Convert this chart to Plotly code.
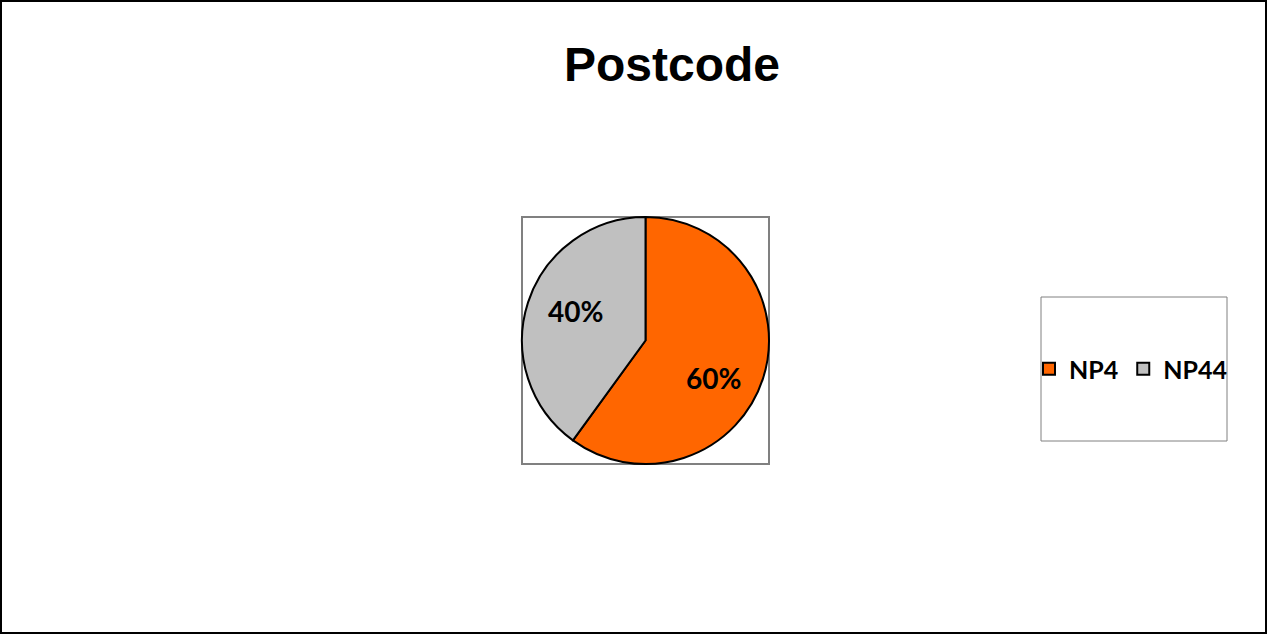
import math
import plotly.graph_objects as go

# Postcode split
labels = ["NP4", "NP44"]
values = [60, 40]
colors = ["#FF6600", "#C0C0C0"]

W, H = 1267, 635

def px_x(x):
    return x / W

def px_y(y):
    return 1 - y / H

# plot area square (pixels)
pa_left, pa_right, pa_top, pa_bottom = 522, 769, 217, 464
cx, cy = (pa_left + pa_right) / 2, (pa_top + pa_bottom) / 2
radius = (pa_right - pa_left) / 2

fig = go.Figure()
fig.add_trace(go.Pie(
    labels=labels,
    values=values,
    sort=False,
    direction="clockwise",
    rotation=0,
    marker=dict(colors=colors, line=dict(color="#000000", width=2)),
    textinfo="none",
    domain=dict(x=[px_x(pa_left), px_x(pa_right)], y=[px_y(pa_bottom), px_y(pa_top)]),
    hoverinfo="label+percent",
))

# percentage labels placed inside each slice, offset along the slice
label_radius = [0.63, 0.62]
label_turn = [11, 5]  # degrees, clockwise nudge from the slice middle
annotations = []
total = sum(values)
start = 0.0
for i, v in enumerate(values):
    frac = v / total
    mid_deg = (start + frac / 2) * 360 + label_turn[i]
    start += frac
    a = math.radians(mid_deg)
    r = radius * label_radius[i]
    x = cx + r * math.sin(a)
    y = cy - r * math.cos(a)
    annotations.append(dict(
        x=px_x(x), y=px_y(y), xref="paper", yref="paper",
        text=f"{round(frac * 100)}%", showarrow=False,
        xanchor="center", yanchor="middle",
        font=dict(family="Lato", size=28, color="#000000", weight="bold"),
    ))

shapes = [
    # outer chart border
    dict(type="rect", xref="paper", yref="paper", x0=px_x(1), x1=px_x(W - 1), y0=px_y(H - 2), y1=px_y(1),
         line=dict(color="#000000", width=2), fillcolor="rgba(0,0,0,0)", layer="below"),
    # plot area border
    dict(type="rect", xref="paper", yref="paper", x0=px_x(pa_left), x1=px_x(pa_right),
         y0=px_y(pa_bottom), y1=px_y(pa_top),
         line=dict(color="#808080", width=2), fillcolor="rgba(0,0,0,0)", layer="below"),
    # legend box
    dict(type="rect", xref="paper", yref="paper", x0=px_x(1041), x1=px_x(1227), y0=px_y(441), y1=px_y(297),
         line=dict(color="#808080", width=1), fillcolor="#FFFFFF", layer="below"),
]

fig.update_layout(
    width=W, height=H,
    margin=dict(l=0, r=0, t=0, b=0),
    paper_bgcolor="#FFFFFF",
    plot_bgcolor="#FFFFFF",
    title=dict(text="Postcode", x=px_x(672), xanchor="center", xref="paper",
               y=px_y(64), yanchor="middle", yref="paper",
               font=dict(family="Liberation Sans", size=48, color="#000000", weight="bold")),
    showlegend=True,
    legend=dict(orientation="h", x=px_x(1029), xanchor="left", y=px_y(369), yanchor="middle",
                bgcolor="rgba(0,0,0,0)", borderwidth=0,
                font=dict(family="Lato", size=25, color="#000000", weight="bold"),
                itemclick=False),
    annotations=annotations,
    shapes=shapes,
)

fig.write_html("out.html")
